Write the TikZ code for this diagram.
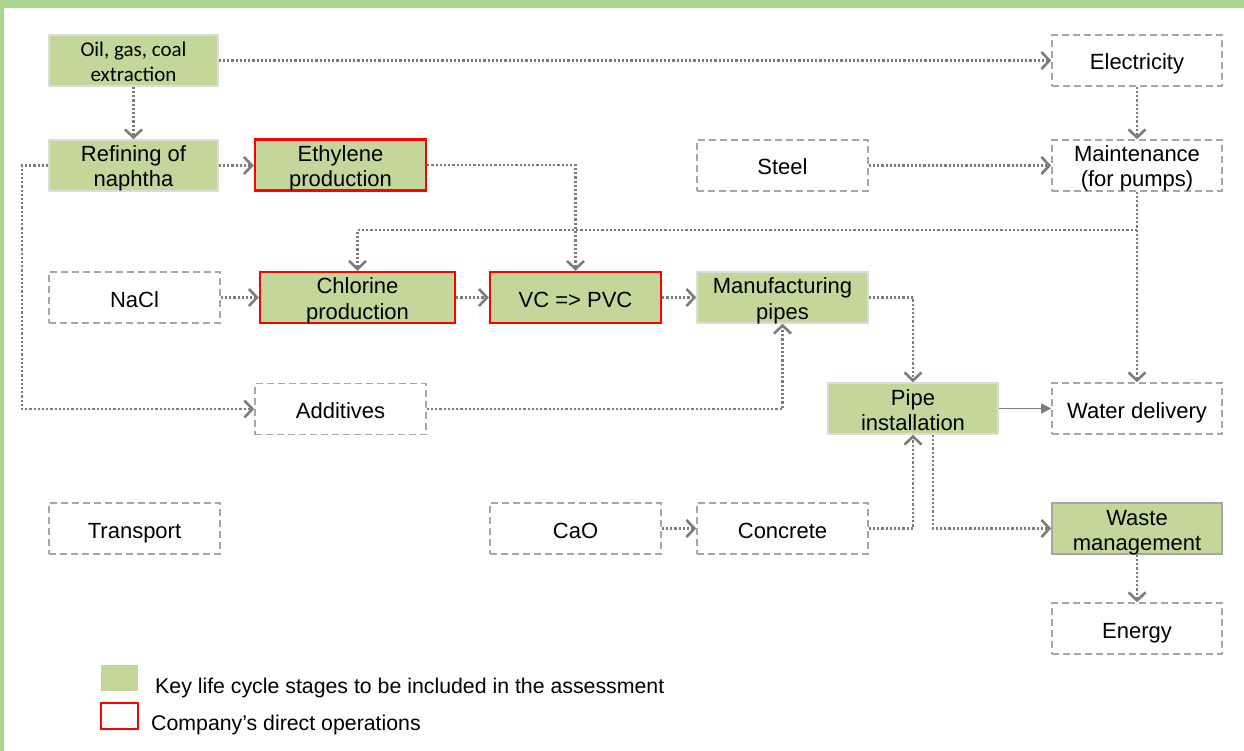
\documentclass[tikz,border=0pt]{standalone}
\usepackage{fontspec}
\setmainfont{Liberation Sans}
\newfontfamily\calib{Carlito}
\usetikzlibrary{arrows.meta}
\definecolor{kgreen}{HTML}{C4D79B}
\definecolor{frame}{HTML}{A8D590}
\definecolor{cgray}{HTML}{7C7C7C}
\definecolor{bgray}{HTML}{A6A6A6}
\definecolor{lgray}{HTML}{DCDCDC}
\definecolor{kred}{HTML}{FF0000}
\tikzset{
  box/.style={minimum width=171pt, minimum height=51pt, align=center, inner sep=0pt,
    font=\fontsize{22}{25}\selectfont, text height=22pt, text depth=3pt},
  two/.style={text height=47pt, text depth=4pt},
  keybox/.style={box, fill=kgreen, draw=lgray, line width=1.5pt},
  opbox/.style={box, fill=kgreen, draw=kred, line width=2.5pt},
  extbox/.style={box, draw=bgray, line width=1.6pt, dash pattern=on 7pt off 4pt},
  flow/.style={draw=cgray, line width=2.6pt, dash pattern=on 2.2pt off 2pt,
    -{Straight Barb[length=8pt, width=17pt, line width=2.6pt]}},
  solidflow/.style={draw=cgray, line width=1.2pt, -{Triangle[length=10pt, width=10pt]}},
  legtext/.style={anchor=west, inner sep=0pt, font=\fontsize{21.3}{25}\selectfont},
}
\begin{document}
\begin{tikzpicture}[x=1pt, y=-1pt]
\useasboundingbox (0,0) rectangle (1244,751);
\fill[white] (0,0) rectangle (1244,751);
\fill[frame] (0,0) rectangle (1244,8);
\fill[frame] (0,0) rectangle (4,751);

% nodes
\node[keybox, two, minimum width=169pt, font=\calib\fontsize{21}{25}\selectfont] (oil) at (133.5,60.5) {Oil, gas, coal\\extraction};
\node[keybox, two, minimum width=169pt] (ref) at (133.5,165.5) {Refining of\\naphtha};
\node[opbox, two] (eth) at (340.5,165) {Ethylene\\production};
\node[extbox, minimum width=170pt] (elec) at (1137,60.5) {Electricity};
\node[extbox] (steel) at (782.5,165.5) {Steel};
\node[extbox, two, minimum width=170pt] (maint) at (1137,165.5) {Maintenance\\(for pumps)};
\node[extbox] (nacl) at (134.5,297.5) {NaCl};
\node[opbox, two, minimum width=195pt] (chl) at (357.5,297.5) {Chlorine\\production};
\node[opbox] (vc) at (575.5,297.5) {VC =\textgreater{} PVC};
\node[keybox, two] (manu) at (782.5,297.5) {Manufacturing\\pipes};
\node[extbox] (add) at (340.5,409) {Additives};
\node[keybox, two, minimum width=170pt] (pipe) at (913,408.5) {Pipe\\installation};
\node[extbox, minimum width=170pt] (water) at (1137,408.5) {Water delivery};
\node[extbox] (trans) at (134.5,528.5) {Transport};
\node[extbox] (cao) at (575.5,528.5) {CaO};
\node[extbox] (conc) at (782.5,528.5) {Concrete};
\node[keybox, two, draw=bgray, minimum width=170pt] (waste) at (1137,528.5) {Waste\\management};
\node[extbox, minimum width=170pt] (energy) at (1137,628.5) {Energy};

% helper coordinates
\coordinate (lft) at (22,409);
\coordinate (br) at (1137,230);

% connectors
\draw[flow] (oil.east) -- (elec.west);
\draw[flow] (oil.south) -- (ref.north);
\draw[flow] (ref.east) -- (eth.west |- ref.east);
\draw[flow] (ref.west) -| (lft) -- (add.west);
\draw[flow] (eth.east) -| (vc.north);
\draw[flow] (elec.south) -- (maint.north);
\draw[flow] (steel.east) -- (maint.west);
\draw[flow] (maint.south) -- (water.north);
\draw[flow] (br) -| (chl.north);
\draw[flow] (nacl.east) -- (chl.west);
\draw[flow] (chl.east) -- (vc.west);
\draw[flow] (vc.east) -- (manu.west);
\draw[flow] (manu.east) -| (pipe.north);
\draw[flow] (add.east) -| (manu.south);
\draw[solidflow] (pipe.east) -- (water.west);
\draw[flow] (cao.east) -- (conc.west);
\draw[flow] (conc.east) -| (pipe.south);
\draw[flow] ([xshift=20pt]pipe.south) |- (waste.west);
\draw[flow] (waste.south) -- (energy.north);

% legend
\node[fill=kgreen, minimum width=37pt, minimum height=26pt, inner sep=0pt] (lgk) at (119.5,678) {};
\node[draw=kred, line width=2.5pt, minimum width=37pt, minimum height=26pt, inner sep=0pt] (lgo) at (119.5,716) {};
\node[legtext] (lgkt) at (155,688) {Key life cycle stages to be included in the assessment};
\node[legtext] (lgot) at (151,725) {Company’s direct operations};
\end{tikzpicture}
\end{document}
